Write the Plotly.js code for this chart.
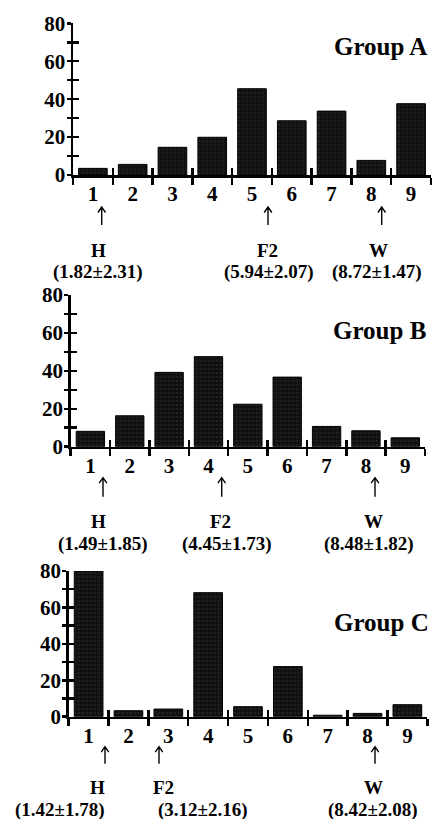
<!DOCTYPE html>
<html>
<head>
<meta charset="utf-8">
<script src="https://cdn.plot.ly/plotly-3.0.1.min.js"></script>
<style>html,body{margin:0;padding:0;background:#fff;}#chart{width:435px;height:819px;}</style>
</head>
<body>
<div id="chart"></div>
<script>
// ---- data ----
const categories = [1, 2, 3, 4, 5, 6, 7, 8, 9];
const groupA = [3.5, 5.6, 14.6, 19.9, 45.5, 28.6, 33.7, 7.7, 37.6];
const groupB = [8.1, 16.3, 39.2, 47.5, 22.4, 36.7, 10.7, 8.4, 4.7];
const groupC = [80, 3.3, 4.2, 68.1, 5.5, 27.5, 0.8, 1.8, 6.6];
const groupNames = ['Group A', 'Group B', 'Group C'];
const markerLabels = ['H', 'F2', 'W'];
const meanSdA = ['(1.82±2.31)', '(5.94±2.07)', '(8.72±1.47)'];
const meanSdB = ['(1.49±1.85)', '(4.45±1.73)', '(8.48±1.82)'];
const meanSdC = ['(1.42±1.78)', '(3.12±2.16)', '(8.42±2.08)'];
const yTickVals = [0, 10, 20, 30, 40, 50, 60, 70, 80];
const yTickText = ['0', '', '20', '', '40', '', '60', '', '80'];

// ---- layout geometry (pixels) ----
const W = 435, H = 819;
const px = v => v / W;
const py = v => 1 - v / H;
const panels = [
  {vals: groupA, stats: meanSdA, xl: 73, xr: 431, y0: 175, y80: 23.3, labDy: 75, statDy: 97, arrTop: 32, arrBot: 50,
   arrowX: [101.7, 268, 381.7], labX: [98, 267, 378], statX: [97.5, 268.5, 376.5], groupY: 46, groupR: 429},
  {vals: groupB, stats: meanSdB, xl: 70.7, xr: 425, y0: 446.7, y80: 295, labDy: 75, statDy: 97, arrTop: 31, arrBot: 50,
   arrowX: [103, 221.7, 375], labX: [98, 220, 373], statX: [102.5, 227, 369], groupY: 330, groupR: 428},
  {vals: groupC, stats: meanSdC, xl: 68.7, xr: 427.3, y0: 716.7, y80: 571, labDy: 71, statDy: 93, arrTop: 30, arrBot: 47,
   arrowX: [105, 159, 375], labX: [97, 163, 373], statX: [60, 203, 373], groupY: 622, groupR: 431}
];

const FONT = 'Liberation Serif, Times New Roman, serif';
const boundaries = [categories[0] - 0.5].concat(categories.map(c => c + 0.5));
const xRange = [boundaries[0], boundaries[boundaries.length - 1]];
const yRange = [0, 80];
const LW = 2.5;

const axKey = (p, n) => (n === 1 ? p + 'axis' : p + 'axis' + n);
const axRef = (p, n) => (n === 1 ? p : p + n);

const traces = [];
const layout = {
  width: W, height: H,
  margin: {l: 0, r: 0, t: 0, b: 0},
  paper_bgcolor: '#fff', plot_bgcolor: 'rgba(0,0,0,0)',
  showlegend: false,
  font: {family: FONT, color: '#000', size: 19, weight: 'bold'},
  annotations: [],
  shapes: []
};

panels.forEach((p, i) => {
  const m = 3 * i + 1, q = m + 1, r = m + 2;
  const xd = [px(p.xl), px(p.xr)];
  const yd = [py(p.y0), py(p.y80)];

  traces.push({
    type: 'bar', x: categories, y: p.vals,
    xaxis: axRef('x', m), yaxis: axRef('y', m),
    width: 0.72,
    marker: {
      color: '#111111',
      line: {color: '#000', width: 1},
      pattern: {shape: '.', fgcolor: '#3c3c3c', bgcolor: '#111111', size: 4, solidity: 0.1}
    },
    hoverinfo: 'skip'
  });
  traces.push({type: 'scatter', x: [], y: [], xaxis: axRef('x', q), yaxis: axRef('y', q), hoverinfo: 'skip'});
  traces.push({type: 'scatter', x: [], y: [], xaxis: axRef('x', r), yaxis: axRef('y', r), hoverinfo: 'skip'});

  layout[axKey('x', m)] = {
    domain: xd, range: xRange, anchor: axRef('y', m),
    tickmode: 'array', tickvals: boundaries, showticklabels: false,
    ticks: 'outside', ticklen: 7, tickwidth: LW, tickcolor: '#000',
    showline: true, linewidth: LW, linecolor: '#000',
    showgrid: false, zeroline: false, fixedrange: true
  };
  layout[axKey('y', m)] = {
    domain: yd, range: yRange, anchor: axRef('x', m),
    tickmode: 'array', tickvals: yTickVals, ticktext: yTickText,
    ticks: 'outside', ticklen: 4, tickwidth: LW, tickcolor: '#000',
    ticklabelstandoff: -3,
    tickfont: {family: FONT, size: 21, color: '#000', weight: 'bold'},
    showline: true, linewidth: LW, linecolor: '#000',
    showgrid: false, zeroline: false, fixedrange: true
  };
  layout[axKey('x', q)] = {
    overlaying: axRef('x', m), range: xRange, anchor: axRef('y', q),
    tickmode: 'array', tickvals: categories, ticktext: categories.map(String),
    ticks: '', ticklabelstandoff: 4,
    tickfont: {family: FONT, size: 21, color: '#000', weight: 'bold'},
    showline: false, showgrid: false, zeroline: false, fixedrange: true
  };
  layout[axKey('y', q)] = {
    overlaying: axRef('y', m), range: yRange, anchor: axRef('x', q),
    tickmode: 'array', tickvals: yTickVals, showticklabels: false,
    ticks: 'inside', ticklen: 6, tickwidth: LW, tickcolor: '#000',
    showline: false, showgrid: false, zeroline: false, fixedrange: true
  };
  layout[axKey('x', r)] = {
    overlaying: axRef('x', m), range: xRange, anchor: axRef('y', r),
    tickmode: 'array', tickvals: boundaries, showticklabels: false,
    ticks: 'inside', ticklen: 7, tickwidth: LW, tickcolor: '#000',
    showline: false, showgrid: false, zeroline: false, fixedrange: true
  };
  layout[axKey('y', r)] = {
    overlaying: axRef('y', m), range: yRange, anchor: axRef('x', r),
    showticklabels: false, ticks: '', showline: false, showgrid: false, zeroline: false, fixedrange: true
  };

  layout.annotations.push({
    xref: 'paper', yref: 'paper', x: px(p.groupR), y: py(p.groupY),
    xanchor: 'right', yanchor: 'middle', showarrow: false,
    text: groupNames[i], font: {family: FONT, size: 25, color: '#000', weight: 'bold'}
  });
  markerLabels.forEach((lab, k) => {
    // thin upward arrow drawn as a path (shaft + open chevron head)
    const ax = p.arrowX[k], top = p.y0 + p.arrTop, bot = p.y0 + p.arrBot;
    const pt = (xx, yy) => px(xx) + ',' + py(yy);
    layout.shapes.push({
      type: 'path', xref: 'paper', yref: 'paper',
      path: 'M' + pt(ax, bot) + ' L' + pt(ax, top) +
            ' M' + pt(ax - 3.8, top + 5.5) + ' L' + pt(ax, top) + ' L' + pt(ax + 3.8, top + 5.5),
      line: {color: '#000', width: 1.4}
    });
    layout.annotations.push({
      xref: 'paper', yref: 'paper', x: px(p.labX[k]), y: py(p.y0 + p.labDy),
      xanchor: 'center', yanchor: 'middle', showarrow: false,
      text: lab, font: {family: FONT, size: 19, color: '#000', weight: 'bold'}
    });
    layout.annotations.push({
      xref: 'paper', yref: 'paper', x: px(p.statX[k]), y: py(p.y0 + p.statDy),
      xanchor: 'center', yanchor: 'middle', showarrow: false,
      text: p.stats[k], font: {family: FONT, size: 19, color: '#000', weight: 'bold'}
    });
  });
});

Plotly.newPlot('chart', traces, layout, {staticPlot: true, displayModeBar: false});
</script>
</body>
</html>
